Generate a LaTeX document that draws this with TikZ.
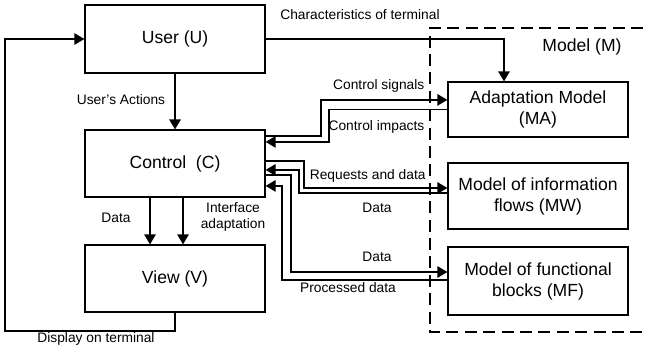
\documentclass[tikz,border=0pt]{standalone}
\usepackage{fontspec}
\setmainfont{Liberation Sans}
\usetikzlibrary{arrows.meta}

\begin{document}
\begin{tikzpicture}[
    block/.style={draw, line width=0.8pt, minimum width=4.5cm, align=center, font=\fontsize{12.5}{15}\selectfont},
    lbl/.style={font=\fontsize{9.8}{11.5}\selectfont, inner sep=1pt},
    wire/.style={line width=1.4pt, -{Triangle[length=2.5mm, width=2.8mm]}},
    back/.style={line width=1.4pt, {Triangle[length=2.5mm, width=2.8mm]}-}
]
    \useasboundingbox (0, 0) rectangle (16.15, 8.825);
    % model frame, open to the right
    \draw[line width=1.4pt, dash pattern=on 3mm off 1.6mm] (17, 8.125) to (10.75, 8.125) to (10.75, 0.525) to (17, 0.525);
    \node[font=\fontsize{12.5}{15}\selectfont] (mlab) at (14.55, 7.65) {Model (M)};

    \node[block, minimum height=1.7cm] (U) at (4.375, 7.85) {User (U)};
    \node[block, minimum height=1.675cm] (C) at (4.375, 4.7375) {Control~~(C)};
    \node[block, minimum height=1.675cm] (V) at (4.375, 1.8625) {View (V)};
    \node[block, minimum height=1.375cm] (MA) at (13.45, 6.0875) {Adaptation Model\\(MA)};
    \node[block, minimum height=1.65cm] (MW) at (13.45, 3.925) {Model of information\\flows (MW)};
    \node[block, minimum height=1.7cm] (MF) at (13.45, 1.8) {Model of functional\\blocks (MF)};

    \coordinate (loop) at (0.125, 0.55);

    \draw[wire] (U) to (C);
    \draw[wire] ([xshift=-6.25mm]C.south) to ([xshift=-6.25mm]V.north);
    \draw[wire] ([xshift=2mm]C.south) to ([xshift=2mm]V.north);
    \draw[wire] (V.south) |- (loop) |- (U.west);
    \draw[wire] (U.east) -| ([xshift=-8.5mm]MA.north);

    \draw[wire] ([yshift=6.9mm]C.east) -- ++(1.375, 0) |- ([yshift=2.4mm]MA.west);
    \draw[back] ([yshift=5.4mm]C.east) -- ++(1.575, 0) |- (MA.west);
    \draw[wire] ([yshift=0.6mm]C.east) -- ++(0.95, 0) |- ([yshift=2mm]MW.west);
    \draw[back] ([yshift=-1.6mm]C.east) -- ++(0.825, 0) |- ([yshift=0.75mm]MW.west);
    \draw[wire] ([yshift=-2.9mm]C.east) -- ++(0.625, 0) |- ([yshift=2.25mm]MF.west);
    \draw[back] ([yshift=-5.6mm]C.east) -- ++(0.4, 0) |- ([yshift=0.25mm]MF.west);

    \node[lbl] (lchar) at (9.0, 8.45) {Characteristics of terminal};
    \node[lbl] (lact) at (3.025, 6.325) {User's Actions};
    \node[lbl] (ldat) at (2.9, 3.375) {Data};
    \node[lbl, align=center] (lint) at (5.825, 3.4) {Interface\\adaptation};
    \node[lbl] (ldisp) at (2.4, 0.35) {Display on terminal};
    \node[lbl, anchor=east] (lsig) at (10.65, 6.675) {Control signals};
    \node[lbl, anchor=east] (limp) at (10.65, 5.65) {Control impacts};
    \node[lbl, anchor=east] (lreq) at (10.68, 4.425) {Requests and data};
    \node[lbl] (ldmw) at (9.425, 3.625) {Data};
    \node[lbl] (ldmf) at (9.425, 2.4) {Data};
    \node[lbl] (lproc) at (8.7, 1.625) {Processed data};
\end{tikzpicture}
\end{document}
